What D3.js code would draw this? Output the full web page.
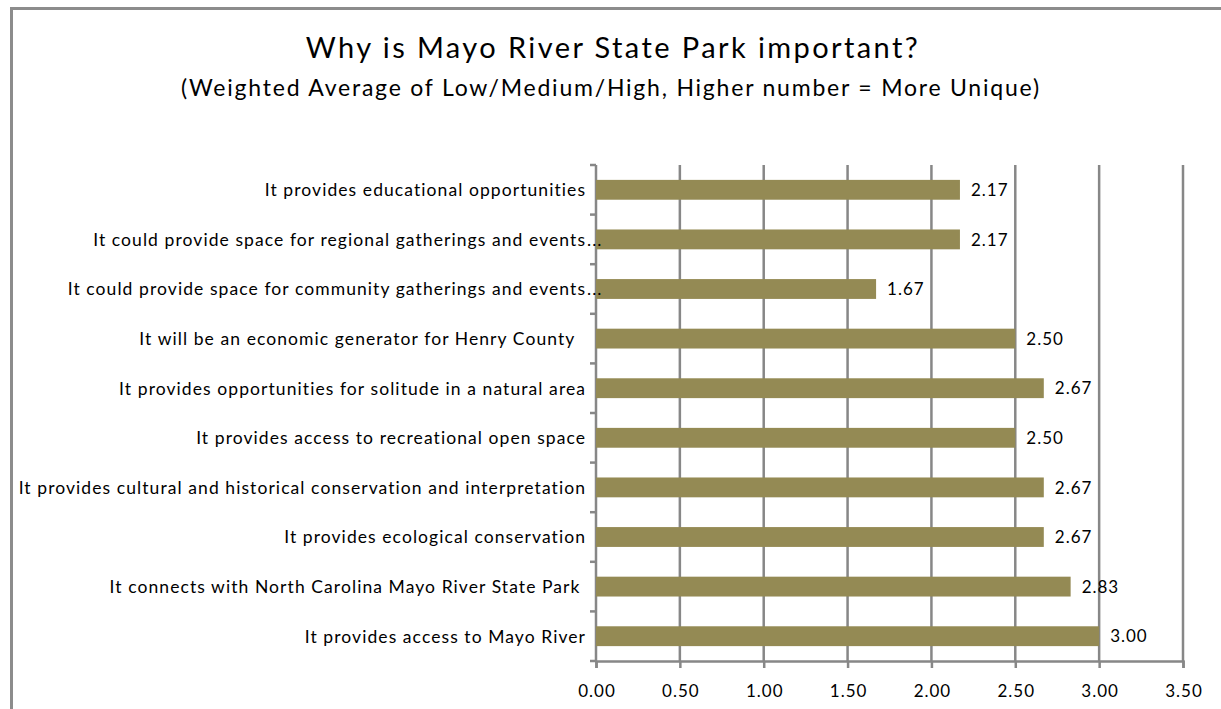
<!DOCTYPE html>
<html>
<head>
<meta charset="utf-8">
<script src="https://cdn.jsdelivr.net/npm/d3@7"></script>
<style>
  html, body { margin: 0; padding: 0; background: #fff; }
  svg { display: block; font-family: Lato, "Open Sans", sans-serif; }
</style>
</head>
<body>
<svg id="chart" width="1221" height="709"></svg>
<script>
const titleText = "Why is Mayo River State Park important?";
const subtitleText = "(Weighted Average of Low/Medium/High, Higher number = More Unique)";

const categories = [
  "It provides educational opportunities",
  "It could provide space for regional gatherings and events...",
  "It could provide space for community gatherings and events...",
  "It will be an economic generator for Henry County  ",
  "It provides opportunities for solitude in a natural area",
  "It provides access to recreational open space",
  "It provides cultural and historical conservation and interpretation",
  "It provides ecological conservation",
  "It connects with North Carolina Mayo River State Park ",
  "It provides access to Mayo River"
];
const values = [2.17, 2.17, 1.67, 2.50, 2.67, 2.50, 2.67, 2.67, 2.83, 3.00];
const xTicks = [0, 0.5, 1.0, 1.5, 2.0, 2.5, 3.0, 3.5];

const svg = d3.select("#chart");
const W = 1221, H = 709;
const margin = { left: 596, top: 165, right: W - 1183, bottom: H - 661 };
const innerW = W - margin.left - margin.right;
const innerH = H - margin.top - margin.bottom;

const gridColor = "#878787";
const barColor = "#948A54";

// letter-spacing fit helper: spreads text so that it spans the target width
function spacingFor(sel, target) {
  const node = sel.node();
  const w = node.getComputedTextLength();
  const n = node.textContent.length;
  return Math.max(0, (target - w) / Math.max(1, n - 1));
}

// outer frame
svg.append("rect")
  .attr("x", 11.5).attr("y", 8.5)
  .attr("width", 1400).attr("height", 900)
  .attr("fill", "none").attr("stroke", "#8c8c8c").attr("stroke-width", 3);

// titles
const t1 = svg.append("text")
  .attr("x", 613).attr("y", 58)
  .attr("text-anchor", "middle")
  .attr("font-size", 29).attr("fill", "#000")
  .text(titleText);
t1.style("letter-spacing", spacingFor(t1, 612) + "px");
const t2 = svg.append("text")
  .attr("x", 611).attr("y", 96)
  .attr("text-anchor", "middle")
  .attr("font-size", 23).attr("fill", "#000")
  .text(subtitleText);
t2.style("letter-spacing", spacingFor(t2, 858) + "px");

const g = svg.append("g").attr("transform", `translate(${margin.left},${margin.top})`);

const x = d3.scaleLinear().domain([0, 3.5]).range([0, innerW]);
const y = d3.scaleBand().domain(categories).range([0, innerH]).paddingInner(0).paddingOuter(0);

// gridlines
g.append("g")
  .selectAll("line")
  .data(xTicks.slice(1))
  .join("line")
  .attr("x1", d => x(d)).attr("x2", d => x(d))
  .attr("y1", 0).attr("y2", innerH)
  .attr("stroke", gridColor).attr("stroke-width", 2.5);

// bottom axis
const xAxis = d3.axisBottom(x).tickValues(xTicks).tickFormat(d3.format(".2f")).tickSize(7).tickPadding(17);
const gx = g.append("g").attr("transform", `translate(0,${innerH})`).call(xAxis);
gx.select(".domain").attr("stroke", gridColor).attr("stroke-width", 2.5);
gx.selectAll(".tick line").attr("stroke", gridColor).attr("stroke-width", 2.5);
gx.selectAll(".tick text").attr("font-size", 17).attr("font-family", "Lato, sans-serif")
  .attr("fill", "#000").style("letter-spacing", "1px").attr("dx", "0.5px");

// left axis: domain + ticks at band boundaries
const boundaries = d3.range(categories.length + 1).map(i => i * y.step());
g.append("line")
  .attr("x1", 0).attr("x2", 0).attr("y1", 0).attr("y2", innerH)
  .attr("stroke", gridColor).attr("stroke-width", 2.5);
g.append("g").selectAll("line")
  .data(boundaries)
  .join("line")
  .attr("x1", -6).attr("x2", 0)
  .attr("y1", d => d).attr("y2", d => d)
  .attr("stroke", gridColor).attr("stroke-width", 2.5);

// bars
const barH = y.bandwidth() * 0.4;
g.append("g").selectAll("rect")
  .data(values)
  .join("rect")
  .attr("x", 0)
  .attr("y", (d, i) => y(categories[i]) + (y.bandwidth() - barH) / 2)
  .attr("width", d => x(d))
  .attr("height", barH)
  .attr("fill", barColor);

// value labels
g.append("g").selectAll("text")
  .data(values)
  .join("text")
  .attr("x", d => x(d) + 11)
  .attr("y", (d, i) => y(categories[i]) + y.bandwidth() / 2)
  .attr("dy", "0.36em")
  .attr("font-size", 17)
  .attr("fill", "#000")
  .style("letter-spacing", "1px")
  .text(d => d3.format(".2f")(d));

// category labels
const lab = g.append("g");
// measure letter spacing from the longest label
const probe = lab.append("text").attr("font-size", 17.5).text(categories[6]);
const labLS = spacingFor(probe, 567);
probe.remove();
categories.forEach((c, i) => {
  const cy = y(c) + y.bandwidth() / 2;
  const trunc = c.endsWith("...");
  const main = trunc ? c.slice(0, -3) : c;
  lab.append("text")
    .attr("x", -11 + labLS)
    .attr("y", cy)
    .attr("dy", "0.36em")
    .attr("text-anchor", "end")
    .attr("font-size", 17.5)
    .attr("fill", "#000")
    .style("white-space", "pre")
    .style("letter-spacing", labLS + "px")
    .text(main);
  if (trunc) {
    lab.append("text")
      .attr("x", -9)
      .attr("y", cy)
      .attr("dy", "0.36em")
      .attr("font-size", 17.5)
      .attr("fill", "#000")
      .style("letter-spacing", "1px")
      .text("...");
  }
});
</script>
</body>
</html>
